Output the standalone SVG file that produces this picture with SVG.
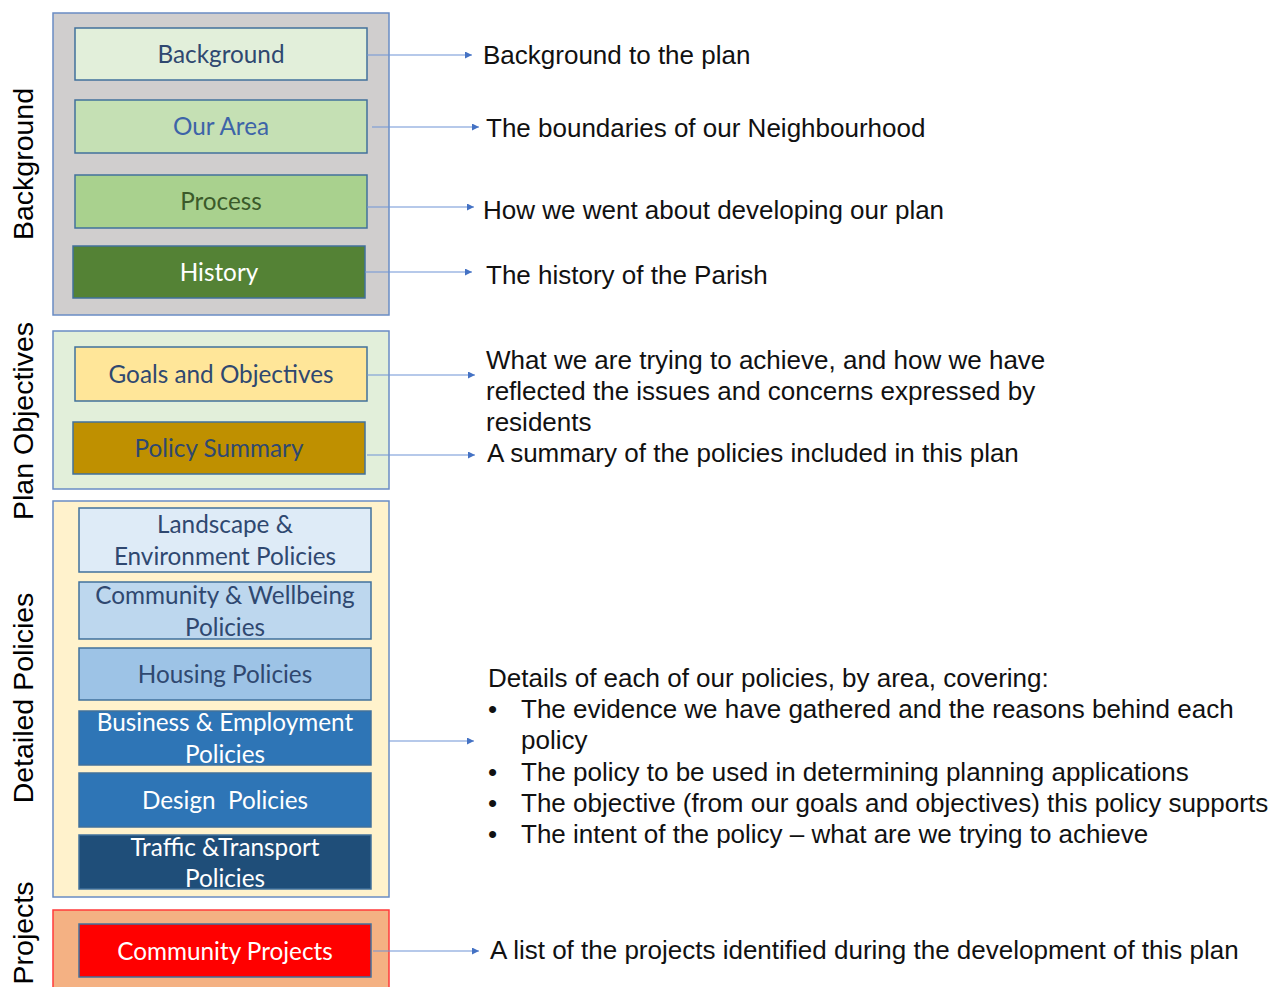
<svg xmlns="http://www.w3.org/2000/svg" width="1270" height="987" viewBox="0 0 1270 987">
<defs>
<marker id="arr" viewBox="0 0 10 10" refX="10" refY="5" markerWidth="7" markerHeight="7" markerUnits="userSpaceOnUse" orient="auto">
<path d="M0,0 L10,5 L0,10 z" fill="#4472c4"/>
</marker>
<style>
.grp{stroke:#6a8cc4;stroke-width:1.5}
.box{stroke:#41719c;stroke-width:1.5}
.bt{font-family:Lato,"Open Sans",sans-serif;font-size:24.3px;text-anchor:middle}
.side{font-family:"Liberation Sans",Arial,sans-serif;font-size:28.5px;fill:#000;text-anchor:middle}
.desc{font-family:"Liberation Sans",Arial,sans-serif;font-size:26px;fill:#111}
.con{stroke:#6f93d6;stroke-width:1.2;fill:none;marker-end:url(#arr)}
</style>
</defs>
<rect width="1270" height="987" fill="#fff"/>

<g id="group-background">
<rect class="grp" x="53" y="13" width="336" height="302" fill="#d0cece"/>
<text class="side" transform="translate(33,164) rotate(-90)">Background</text>
</g>
<g id="group-plan-objectives">
<rect class="grp" x="53" y="331" width="336" height="158" fill="#e2efda"/>
<text class="side" transform="translate(33,421) rotate(-90)">Plan Objectives</text>
</g>
<g id="group-detailed-policies">
<rect class="grp" x="53" y="501" width="336" height="396" fill="#fff2cc"/>
<text class="side" transform="translate(33,698) rotate(-90)">Detailed Policies</text>
</g>
<g id="group-projects">
<rect x="53" y="910" width="336" height="90" fill="#f4b183" stroke="#ff3b3b" stroke-width="1.5"/>
<text class="side" transform="translate(33,933) rotate(-90)">Projects</text>
</g>

<g id="node-background"><rect class="box" x="75" y="28" width="292" height="52" fill="#e2efda"/><text class="bt" x="221" y="63" fill="#2f4870">Background</text></g>
<g id="node-our-area"><rect class="box" x="75" y="100" width="292" height="53" fill="#c5e0b4"/><text class="bt" x="221" y="135" fill="#3d64a8">Our Area</text></g>
<g id="node-process"><rect class="box" x="75" y="175" width="292" height="53" fill="#a9d18e"/><text class="bt" x="221" y="210" fill="#3b5a2a">Process</text></g>
<g id="node-history"><rect class="box" x="73" y="246" width="292" height="52" fill="#548235"/><text class="bt" x="219" y="281" fill="#fff">History</text></g>
<g id="node-goals"><rect class="box" x="75" y="347" width="292" height="54" fill="#ffe699"/><text class="bt" x="221" y="383" fill="#2f4870">Goals and Objectives</text></g>
<g id="node-policy-summary"><rect class="box" x="73" y="422" width="292" height="52" fill="#bf9000"/><text class="bt" x="219" y="457" fill="#2f4870">Policy Summary</text></g>
<g id="node-landscape"><rect class="box" x="79" y="508" width="292" height="64" fill="#deebf7"/><text class="bt" x="225" y="533" fill="#2f4870">Landscape &amp;</text><text class="bt" x="225" y="565" fill="#2f4870">Environment Policies</text></g>
<g id="node-community"><rect class="box" x="79" y="582" width="292" height="57" fill="#bdd7ee"/><text class="bt" x="225" y="604" fill="#2f4870">Community &amp; Wellbeing</text><text class="bt" x="225" y="636" fill="#2f4870">Policies</text></g>
<g id="node-housing"><rect class="box" x="79" y="648" width="292" height="52" fill="#9dc3e6"/><text class="bt" x="225" y="683" fill="#2f4870">Housing Policies</text></g>
<g id="node-business"><rect class="box" x="79" y="711" width="292" height="54" fill="#2e75b6"/><text class="bt" x="225" y="731" fill="#fff">Business &amp; Employment</text><text class="bt" x="225" y="763" fill="#fff">Policies</text></g>
<g id="node-design"><rect class="box" x="79" y="773" width="292" height="54" fill="#2e75b6"/><text class="bt" x="225" y="809" fill="#fff" xml:space="preserve">Design  Policies</text></g>
<g id="node-traffic"><rect class="box" x="79" y="835" width="292" height="54" fill="#1f4e79"/><text class="bt" x="225" y="856" fill="#fff">Traffic &amp;Transport</text><text class="bt" x="225" y="887" fill="#fff">Policies</text></g>
<g id="node-community-projects"><rect class="box" x="79" y="924" width="292" height="53" fill="#ff0000"/><text class="bt" x="225" y="960" fill="#fff">Community Projects</text></g>

<g id="connectors">
<line class="con" x1="367" y1="55" x2="472" y2="55"/>
<line class="con" x1="372" y1="127" x2="479" y2="127"/>
<line class="con" x1="367" y1="207" x2="474" y2="207"/>
<line class="con" x1="365" y1="272" x2="472" y2="272"/>
<line class="con" x1="367" y1="375" x2="475" y2="375"/>
<line class="con" x1="367" y1="455" x2="475" y2="455"/>
<line class="con" x1="389" y1="741" x2="474" y2="741"/>
<line class="con" x1="373" y1="951" x2="479" y2="951"/>
</g>

<g id="descriptions">
<text class="desc" x="483" y="64">Background to the plan</text>
<text class="desc" x="486" y="137">The boundaries of our Neighbourhood</text>
<text class="desc" x="483" y="219">How we went about developing our plan</text>
<text class="desc" x="486" y="284">The history of the Parish</text>
<text class="desc" x="486" y="369">What we are trying to achieve, and how we have</text>
<text class="desc" x="486" y="400">reflected the issues and concerns expressed by</text>
<text class="desc" x="486" y="431">residents</text>
<text class="desc" x="487" y="462">A summary of the policies included in this plan</text>
<text class="desc" x="488" y="687">Details of each of our policies, by area, covering:</text>
<text class="desc" x="488" y="718">•</text><text class="desc" x="521" y="718">The evidence we have gathered and the reasons behind each</text>
<text class="desc" x="521" y="749">policy</text>
<text class="desc" x="488" y="781">•</text><text class="desc" x="521" y="781">The policy to be used in determining planning applications</text>
<text class="desc" x="488" y="812">•</text><text class="desc" x="521" y="812">The objective (from our goals and objectives) this policy supports</text>
<text class="desc" x="488" y="843">•</text><text class="desc" x="521" y="843">The intent of the policy – what are we trying to achieve</text>
<text class="desc" x="490" y="959">A list of the projects identified during the development of this plan</text>
</g>
</svg>
